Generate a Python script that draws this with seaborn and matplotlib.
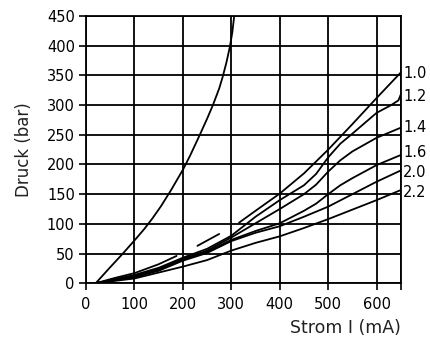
import matplotlib
matplotlib.use("Agg")
import matplotlib.pyplot as plt
import seaborn as sns
import pandas as pd

# ---- data ----
steep_x = [20, 50, 75, 100, 120, 137, 155, 175, 200, 215, 235, 250, 262, 275, 282, 290, 297, 302, 306]
steep_y = [0, 27, 49, 72, 91, 109, 130, 156, 191, 215, 250, 277, 300, 328, 347, 372, 398, 422, 450]

c10_x = [20, 60, 100, 150, 187, 230, 275, 316, 350, 400, 450, 500, 550, 600, 650]
c10_y = [0, 9, 17, 32, 46, 63, 83, 102, 122, 151, 185, 225, 268, 312, 355]
c10_seg = [0, 0, 0, 0, 0, 1, 1, 2, 2, 2, 2, 2, 2, 2, 2]

c12_x = [20, 100, 150, 200, 250, 300, 350, 400, 450, 475, 500, 525, 550, 600, 630, 645, 650]
c12_y = [0, 14, 26, 43, 58, 80, 112, 140, 165, 184, 212, 235, 252, 287, 300, 308, 318]

c14_x = [20, 100, 150, 200, 250, 300, 350, 400, 450, 475, 500, 525, 550, 600, 650]
c14_y = [0, 12, 24, 41, 55, 77, 101, 125, 150, 166, 188, 207, 222, 245, 262]

c16_x = [20, 100, 150, 200, 250, 300, 350, 400, 450, 475, 500, 525, 550, 600, 650]
c16_y = [0, 11, 22, 40, 53, 73, 88, 101, 122, 134, 150, 165, 177, 199, 216]

c20_x = [20, 100, 150, 200, 250, 300, 350, 400, 450, 500, 550, 600, 650]
c20_y = [0, 10, 21, 38, 51, 71, 85, 96, 112, 129, 150, 171, 190]

c22_x = [20, 100, 150, 200, 250, 300, 350, 400, 450, 500, 550, 600, 650]
c22_y = [0, 8, 18, 28, 39, 55, 68, 79, 93, 108, 124, 140, 157]

curve_labels = ["1.0", "1.2", "1.4", "1.6", "2.0", "2.2"]
label_y = [354, 314, 263, 220, 186, 152]

x_ticks = [0, 100, 200, 300, 400, 500, 600]
y_ticks = [0, 50, 100, 150, 200, 250, 300, 350, 400, 450]

# ---- build long table ----
frames = []
frames.append(pd.DataFrame({"x": steep_x, "y": steep_y, "unit": "steep"}))
frames.append(pd.DataFrame({"x": c10_x, "y": c10_y,
                            "unit": ["1.0_" + str(s) for s in c10_seg]}))
for name, xs, ys in [("1.2", c12_x, c12_y), ("1.4", c14_x, c14_y),
                     ("1.6", c16_x, c16_y), ("2.0", c20_x, c20_y),
                     ("2.2", c22_x, c22_y)]:
    frames.append(pd.DataFrame({"x": xs, "y": ys, "unit": name}))
df = pd.concat(frames, ignore_index=True)

sns.set_theme(style="ticks")
plt.rcParams["font.family"] = ["DejaVu Sans"]

fig = plt.figure(figsize=(4.31, 3.38), dpi=100)
ax = fig.add_axes([0.1995, 0.162, 0.7305, 0.7905])

sns.lineplot(data=df, x="x", y="y", units="unit", estimator=None,
             color="black", linewidth=1.3, ax=ax, legend=False)

ax.set_xlim(0, 650)
ax.set_ylim(0, 450)
ax.set_xticks(x_ticks)
ax.set_xticks([650], minor=True)
ax.set_yticks(y_ticks)
ax.grid(True, which="both", color="black", linewidth=1.3)
ax.set_axisbelow(True)
for s in ax.spines.values():
    s.set_visible(True)
    s.set_color("black")
    s.set_linewidth(1.3)
ax.tick_params(axis="both", which="both", direction="out", length=5,
               width=1.2, color="black", labelsize=10.5, pad=3,
               labelcolor="black")
ax.tick_params(axis="x", pad=5)

for lab, yv in zip(curve_labels, label_y):
    ax.text(655, yv, lab, ha="left", va="center", fontsize=10.5,
            color="black", clip_on=False)

ax.set_ylabel("Druck (bar)", fontsize=12, color="#222222", labelpad=10)
ax.set_xlabel("Strom I (mA)", fontsize=12.5, color="#222222", loc="right",
              labelpad=5)

fig.savefig("out.png", dpi=100)
